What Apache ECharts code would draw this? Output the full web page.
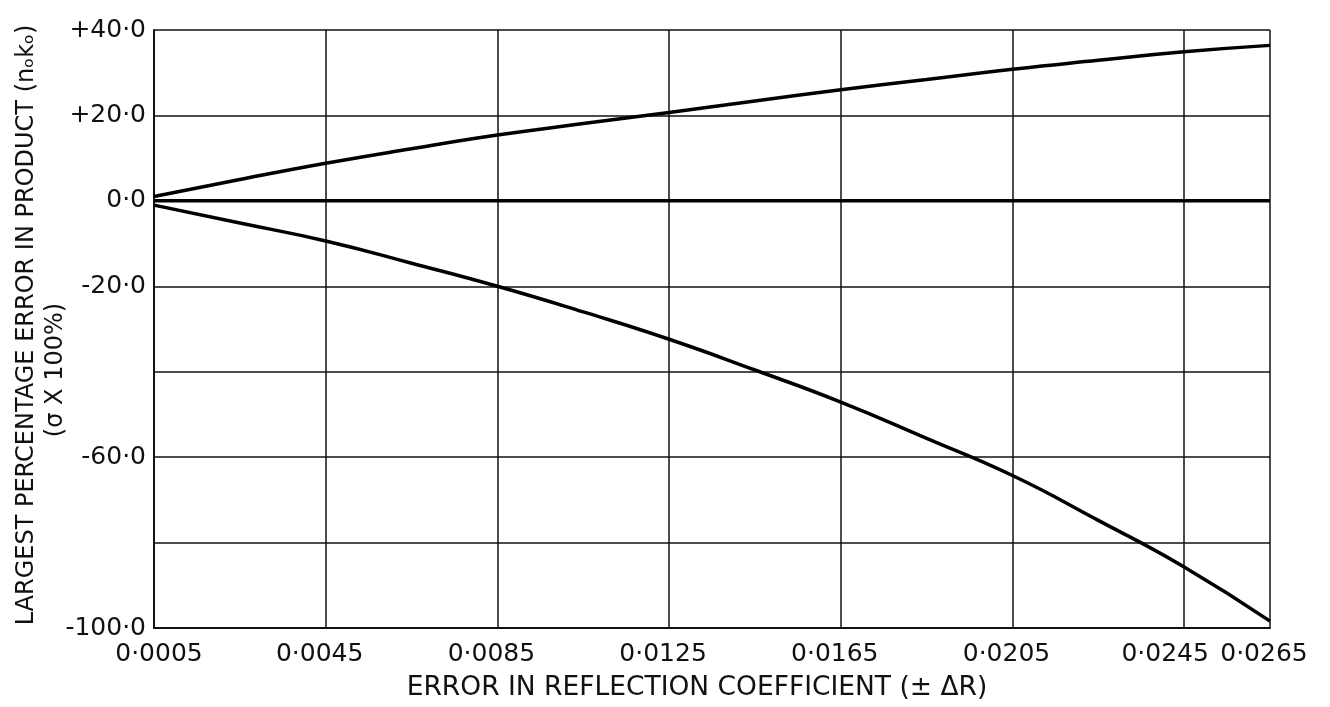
<!DOCTYPE html>
<html>
<head>
<meta charset="utf-8">
<title>Error in reflection coefficient</title>
<script src="https://cdn.jsdelivr.net/npm/echarts@6/dist/echarts.min.js"></script>
<style>
  html, body { margin: 0; padding: 0; background: #fff; }
  #main { width: 1330px; height: 707px; }
</style>
</head>
<body>
<div id="main"></div>
<script>
// x categories (error in reflection coefficient), every 0.002
const xValues = ['0·0005', '0·0025', '0·0045', '0·0065', '0·0085', '0·0105', '0·0125',
  '0·0145', '0·0165', '0·0185', '0·0205', '0·0225', '0·0245', '0·0265'];
// upper and lower bounds of the percentage error, plus the zero line
const upperError = [1.0, 5.0, 8.8, 12.2, 15.4, 18.1, 20.7, 23.4, 26.0, 28.4, 30.8, 32.9, 34.9, 36.4];
const lowerError = [-1.0, -5.2, -9.4, -14.6, -20.0, -26.0, -32.4, -39.6, -47.1, -55.6, -64.3, -74.8, -85.7, -98.4];
const zeroLine = [0, 0, 0, 0, 0, 0, 0, 0, 0, 0, 0, 0, 0, 0];
// y ticks and what is printed at them
const yTicks = [40, 20, 0, -20, -40, -60, -80, -100];
const yTickLabels = ['+40·0', '+20·0', '0·0', '-20·0', '', '-60·0', '', '-100·0'];

const FONT = 'DejaVu Sans';
const shownTick = (i) => i % 2 === 0 || i === xValues.length - 1;

let chart = echarts.init(document.getElementById('main'));

let option = {
  backgroundColor: '#fff',
  animation: false,
  grid: { left: 154, right: 60, top: 30, bottom: 79, containLabel: false, outerBoundsMode: 'none' },
  xAxis: {
    type: 'category',
    data: xValues,
    boundaryGap: false,
    name: '{t|ERROR IN REFLECTION COEFFICIENT (± ΔR)}',
    nameLocation: 'middle',
    nameGap: 47,
    nameMoveOverlap: false,
    nameTextStyle: {
      rich: { t: { fontFamily: FONT, fontSize: 26.5, color: '#111', padding: [0, 30, 0, 0] } }
    },
    axisLine: { onZero: false, lineStyle: { color: '#111', width: 2 } },
    axisTick: { show: false },
    axisLabel: {
      interval: (i) => shownTick(i),
      margin: 14,
      formatter: (v, i) => {
        if (i === 12) return '{b|' + v + '}';
        if (i === 0) return '{c|' + v + '}';
        return '{a|' + v + '}';
      },
      rich: {
        a: { fontFamily: FONT, fontSize: 25, color: '#111', padding: [0, 12, 0, 0] },
        b: { fontFamily: FONT, fontSize: 25, color: '#111', padding: [0, 38, 0, 0] },
        c: { fontFamily: FONT, fontSize: 25, color: '#111', padding: [0, 0, 0, 10] }
      }
    },
    splitLine: {
      show: true,
      interval: (i) => shownTick(i),
      lineStyle: { color: '#111', width: 1.5 }
    }
  },
  yAxis: {
    type: 'value',
    min: -100,
    max: 40,
    interval: 20,
    name: '{a|LARGEST PERCENTAGE ERROR IN PRODUCT (nₒkₒ)}\n{b|(σ X 100%)}',
    nameLocation: 'middle',
    nameRotate: 90,
    nameGap: 84,
    nameMoveOverlap: false,
    nameTextStyle: {
      lineHeight: 29,
      rich: {
        a: { fontFamily: FONT, fontSize: 24, color: '#111', lineHeight: 29, padding: [0, 0, 0, 8] },
        b: { fontFamily: FONT, fontSize: 24, color: '#111', lineHeight: 29, padding: [0, 82, 0, 0] }
      }
    },
    axisLine: { show: true, lineStyle: { color: '#111', width: 2 } },
    axisTick: { show: false },
    axisLabel: {
      margin: 8,
      fontFamily: FONT,
      fontSize: 25,
      color: '#111',
      formatter: (v) => {
        const k = yTicks.indexOf(v);
        return k >= 0 ? yTickLabels[k] : '';
      }
    },
    splitLine: { show: true, lineStyle: { color: '#111', width: 1.5 } }
  },
  series: [
    {
      name: 'upper',
      type: 'line',
      data: upperError,
      smooth: 0.5,
      symbol: 'none',
      lineStyle: { color: '#000', width: 3.5 }
    },
    {
      name: 'zero',
      type: 'line',
      data: zeroLine,
      symbol: 'none',
      lineStyle: { color: '#000', width: 3.5 }
    },
    {
      name: 'lower',
      type: 'line',
      data: lowerError,
      smooth: 0.5,
      symbol: 'none',
      lineStyle: { color: '#000', width: 3.5 }
    }
  ]
};

chart.setOption(option);
</script>
</body>
</html>
